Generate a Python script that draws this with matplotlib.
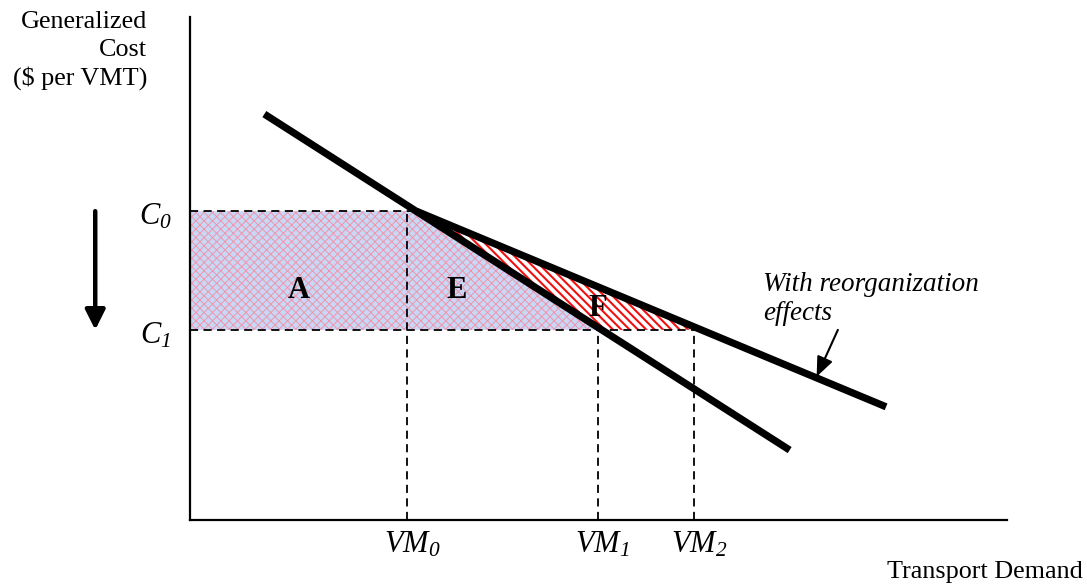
import matplotlib
matplotlib.use("Agg")
import matplotlib.pyplot as plt

# ---- data (arbitrary economic units) ----
cost_levels = [61.4, 37.8]            # C0, C1
cost_labels = [r"$C_0$", r"$C_1$"]
vm_levels = [26.6, 49.9, 61.7]         # VM0, VM1, VM2
vm_labels = [r"$VM_0$", r"$VM_1$", r"$VM_2$"]
base_demand_x = [9.1, 73.4]
base_demand_y = [80.7, 13.9]
reorg_demand_x = [27.7, 85.2]
reorg_demand_y = [61.4, 22.5]
surplus_x = [0, 27.7, 50.2, 0]         # areas A + E
surplus_y = [61.4, 61.4, 37.8, 37.8]
extra_x = [27.7, 62.0, 50.2]           # area F
extra_y = [61.4, 37.8, 37.8]
area_labels = ["A", "E", "F"]
area_label_x = [13.3, 32.6, 49.9]
area_label_y = [45.7, 45.7, 42.1]

W, H = 1087, 588
plt.rcParams["font.family"] = ["Liberation Serif", "DejaVu Serif"]
plt.rcParams["mathtext.fontset"] = "custom"
plt.rcParams["mathtext.it"] = "Liberation Serif:italic"
plt.rcParams["mathtext.rm"] = "Liberation Serif:italic"

fig = plt.figure(figsize=(W / 100, H / 100), dpi=100)
ax = fig.add_axes([190 / W, 1 - 520 / H, 817 / W, 503 / H])
ax.set_xlim(0, 100)
ax.set_ylim(0, 100)
for s in ["top", "right"]:
    ax.spines[s].set_visible(False)
for s in ["left", "bottom"]:
    ax.spines[s].set_linewidth(1.6)
ax.set_xticks([])
ax.set_yticks([])

def fp(x, y):
    return (x / W, 1 - y / H)

# fills
with plt.rc_context({"hatch.linewidth": 0.7}):
    ax.fill(surplus_x, surplus_y, facecolor="#c8d8f6", edgecolor="#f096ab",
            hatch="xxxx", linewidth=0, zorder=1)
with plt.rc_context({"hatch.linewidth": 1.5}):
    ax.fill(extra_x, extra_y, facecolor="white", edgecolor="#f01010",
            hatch="\\\\\\\\", linewidth=0, zorder=1)

# dashed guide lines
dash = dict(color="black", linewidth=1.3, linestyles=(0, (4.5, 3)), zorder=2)
ax.hlines(cost_levels[0], 0, surplus_x[1], **dash)
ax.hlines(cost_levels[1], 0, vm_levels[2], **dash)
ax.vlines(vm_levels[0], 0, cost_levels[0], **dash)
ax.vlines(vm_levels[1], 0, cost_levels[1], **dash)
ax.vlines(vm_levels[2], 0, cost_levels[1], **dash)

# demand curves
ax.plot(base_demand_x, base_demand_y, color="black", linewidth=5.2,
        solid_capstyle="butt", zorder=3)
ax.plot(reorg_demand_x, reorg_demand_y, color="black", linewidth=5.2,
        solid_capstyle="butt", zorder=3)

# area labels
for lab, x, y in zip(area_labels, area_label_x, area_label_y):
    ax.text(x, y, lab, fontsize=22, fontweight="bold", ha="center",
            va="center", zorder=4)

# cost labels
for lab, y in zip(cost_labels, cost_levels):
    ax.text(-4.2, y - 1.2, lab, fontsize=22, ha="center", va="center",
            clip_on=False)

# VM labels
for lab, x in zip(vm_labels, vm_levels):
    ax.text(x + 0.6, -4.9, lab, fontsize=22, ha="center", va="center",
            clip_on=False)

# downward arrow
ax.annotate("", xy=(-11.6, cost_levels[1]), xytext=(-11.6, cost_levels[0]),
            arrowprops=dict(arrowstyle="-|>,head_length=0.6,head_width=0.3",
                            mutation_scale=20, lw=3.2, color="black",
                            shrinkA=0, shrinkB=0),
            annotation_clip=False)

# reorganization annotation
ax.annotate("", xy=(76.7, 28.5), xytext=(79.3, 37.8),
            arrowprops=dict(arrowstyle="-|>,head_length=0.6,head_width=0.25",
                            mutation_scale=20, lw=1.5, color="black",
                            shrinkA=0, shrinkB=0))
fig.text(*fp(763, 285), "With reorganization", fontsize=19.5, style="italic",
         ha="left", va="center")
fig.text(*fp(763, 314), "effects", fontsize=19.5, style="italic",
         ha="left", va="center")

# axis titles
for txt, y in zip(["Generalized", "Cost", "($ per VMT)"], [22, 50, 78]):
    fig.text(*fp(147, y), txt, fontsize=18.8, ha="right", va="center")
fig.text(*fp(1083, 572), "Transport Demand", fontsize=18.8, ha="right",
         va="center")

fig.savefig("out.png", dpi=100)
